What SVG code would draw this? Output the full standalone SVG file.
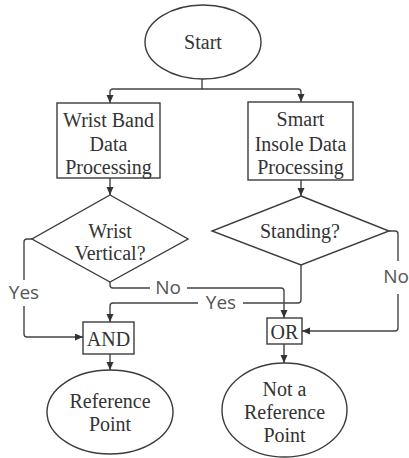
<svg xmlns="http://www.w3.org/2000/svg" width="409" height="458" viewBox="0 0 409 458">
  <style>
    .shape { fill: #ffffff; stroke: #3c3c3c; stroke-width: 1.4; }
    .t { font-size: 20px; fill: #333333; text-anchor: middle; dominant-baseline: central; }
    .wire { fill: none; stroke: #444444; stroke-width: 1.4; }
    .lbl { font-size: 19px; fill: #555555; text-anchor: middle; dominant-baseline: central; }
    .lblbg { fill: #ffffff; }
  </style>
  <defs>
    <marker id="arrow" markerWidth="8" markerHeight="8" refX="8" refY="3.5" orient="auto" markerUnits="userSpaceOnUse">
      <path d="M0,0 L8,3.5 L0,7 z" fill="#333333"/>
    </marker>
  </defs>
  <rect width="409" height="458" fill="#ffffff"/>

  <g id="connectors" font-family="Open Sans, sans-serif">
    <path class="wire" d="M202,79 V89 H113 Q110,89 110,92 V103" marker-end="url(#arrow)"/>
    <path class="wire" d="M202,89 H298 Q301,89 301,92 V102" marker-end="url(#arrow)"/>
    <path class="wire" d="M110,178 V195" marker-end="url(#arrow)"/>
    <path class="wire" d="M301,180 V196" marker-end="url(#arrow)"/>
    <path class="wire" d="M32,239 H27 Q24,239 24,242 V334 Q24,337 27,337 H83" marker-end="url(#arrow)"/>
    <path class="wire" d="M110,282 V285 Q110,288 113,288 H281 Q284,288 284,291 V318" marker-end="url(#arrow)"/>
    <path class="wire" d="M301,265 V300 Q301,303 298,303 H113 Q110,303 110,306 V322" marker-end="url(#arrow)"/>
    <path class="wire" d="M389,231 H395 Q398,231 398,234 V328 Q398,331 395,331 H302" marker-end="url(#arrow)"/>
    <path class="wire" d="M110,354 V370" marker-end="url(#arrow)"/>
    <path class="wire" d="M284,344 V363" marker-end="url(#arrow)"/>

    <rect class="lblbg" x="6" y="280" width="36" height="26"/>
    <text class="lbl" x="24" y="292">Yes</text>
    <rect class="lblbg" x="150" y="279" width="37" height="18"/>
    <text class="lbl" x="168" y="287">No</text>
    <rect class="lblbg" x="198" y="294" width="45" height="18"/>
    <text class="lbl" x="221" y="302">Yes</text>
    <rect class="lblbg" x="384" y="261" width="25" height="33"/>
    <text class="lbl" x="396" y="276">No</text>
  </g>

  <g id="nodes" font-family="Liberation Serif, serif">
    <g id="start">
      <ellipse class="shape" cx="203" cy="42" rx="58" ry="37"/>
      <text class="t" x="203" y="42">Start</text>
    </g>

    <g id="wristband">
      <rect class="shape" x="57" y="103" width="103" height="75"/>
      <text class="t" x="108.5" y="120">Wrist Band</text>
      <text class="t" x="108.5" y="144">Data</text>
      <text class="t" x="108.5" y="167">Processing</text>
    </g>

    <g id="insole">
      <rect class="shape" x="248" y="102" width="105" height="78"/>
      <text class="t" x="300.5" y="119">Smart</text>
      <text class="t" x="300.5" y="144">Insole Data</text>
      <text class="t" x="300.5" y="167">Processing</text>
    </g>

    <g id="wrist-vertical">
      <polygon class="shape" points="110,195 188,239 110,282 32,239"/>
      <text class="t" x="110" y="231">Wrist</text>
      <text class="t" x="110" y="253">Vertical?</text>
    </g>

    <g id="standing">
      <polygon class="shape" points="301,196 389,231 301,265 212,231"/>
      <text class="t" x="300" y="231">Standing?</text>
    </g>

    <g id="and">
      <rect class="shape" x="83" y="322" width="51" height="32"/>
      <text class="t" x="108.5" y="339">AND</text>
    </g>

    <g id="or">
      <rect class="shape" x="267" y="318" width="35" height="26"/>
      <text class="t" x="284.5" y="332">OR</text>
    </g>

    <g id="reference-point">
      <ellipse class="shape" cx="110" cy="412" rx="63" ry="42"/>
      <text class="t" x="110" y="401">Reference</text>
      <text class="t" x="110" y="424">Point</text>
    </g>

    <g id="not-reference-point">
      <ellipse class="shape" cx="284.5" cy="410" rx="62.5" ry="47"/>
      <text class="t" x="284.5" y="389">Not a</text>
      <text class="t" x="284.5" y="412">Reference</text>
      <text class="t" x="284.5" y="435">Point</text>
    </g>
  </g>
</svg>
